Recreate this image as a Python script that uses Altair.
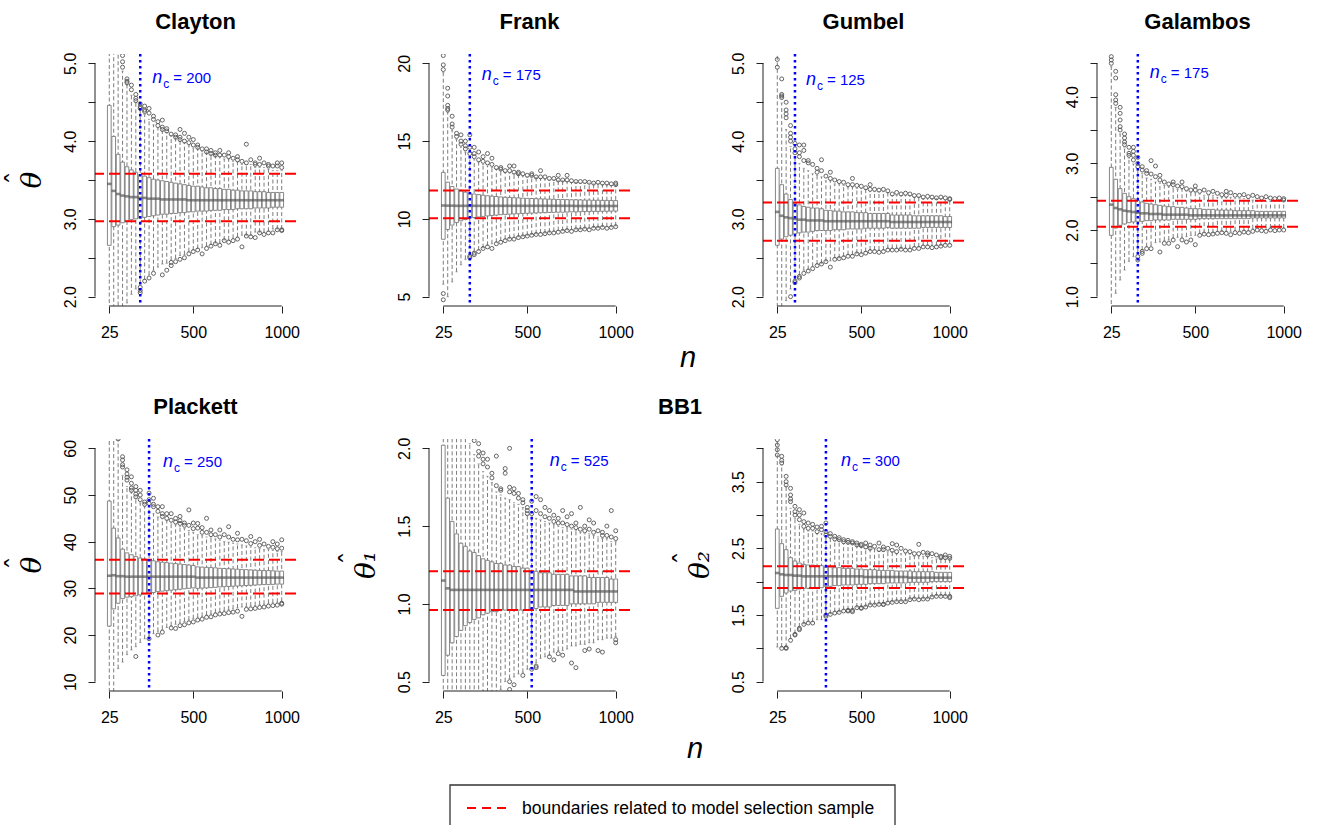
import json
import altair as alt
import pandas as pd

# ---------------- data ----------------
N = [25, 50, 75, 100, 125, 150, 175, 200, 225, 250, 275, 300, 325, 350, 375, 400, 425, 450, 475, 500,
     525, 550, 575, 600, 625, 650, 675, 700, 725, 750, 775, 800, 825, 850, 875, 900, 925, 950, 975, 1000]
X_TICKS = [25, 500, 1000]

panel_titles = ["Clayton", "Frank", "Gumbel", "Galambos", "Plackett", "", ""]
y_titles = ["\u03b8", "", "", "", "\u03b8", "\u03b8\u2081", "\u03b8\u2082"]
n_c = [200, 175, 125, 175, 250, 525, 300]
red_upper = [3.58, 11.82, 3.21, 2.44, 36.1, 1.21, 2.23]
red_lower = [2.97, 10.04, 2.72, 2.05, 28.9, 0.96, 1.905]
y_domains = [[1.88, 5.12], [4.4, 20.6], [1.88, 5.12], [0.86, 4.64], [8, 62], [0.44, 2.06], [0.36, 4.14]]
y_ticks = [[2.0, 2.5, 3.0, 3.5, 4.0, 4.5, 5.0], [5, 10, 15, 20], [2.0, 2.5, 3.0, 3.5, 4.0, 4.5, 5.0],
           [1.0, 1.5, 2.0, 2.5, 3.0, 3.5, 4.0, 4.5], [10, 20, 30, 40, 50, 60], [0.5, 1.0, 1.5, 2.0],
           [0.5, 1.0, 1.5, 2.0, 2.5, 3.0, 3.5, 4.0]]
y_labels = [[2, 3, 4, 5], [5, 10, 15, 20], [2, 3, 4, 5], [1, 2, 3, 4], [10, 20, 30, 40, 50, 60],
            [0.5, 1.0, 1.5, 2.0], [0.5, 1.5, 2.5, 3.5]]
y_formats = [".1f", "d", ".1f", ".1f", "d", ".1f", ".1f"]
legend_text = "boundaries related to model selection sample"

clayton_med = [3.45, 3.36, 3.32, 3.30, 3.29, 3.28, 3.28, 3.27, 3.27, 3.26, 3.26, 3.26, 3.25, 3.25, 3.25, 3.25, 3.25, 3.25, 3.24, 3.24,
               3.24, 3.24, 3.24, 3.24, 3.24, 3.24, 3.24, 3.24, 3.24, 3.24, 3.24, 3.24, 3.24, 3.24, 3.24, 3.24, 3.24, 3.24, 3.24, 3.24]
clayton_q3 = [4.46, 4.06, 3.83, 3.73, 3.67, 3.63, 3.60, 3.57, 3.55, 3.53, 3.51, 3.50, 3.49, 3.48, 3.47, 3.46, 3.45, 3.44, 3.43, 3.42,
              3.42, 3.41, 3.40, 3.40, 3.39, 3.39, 3.38, 3.38, 3.37, 3.37, 3.36, 3.36, 3.36, 3.35, 3.35, 3.35, 3.34, 3.34, 3.34, 3.34]
clayton_q1 = [2.66, 2.90, 2.92, 2.95, 2.97, 2.99, 3.00, 3.01, 3.02, 3.03, 3.04, 3.05, 3.06, 3.06, 3.07, 3.07, 3.08, 3.08, 3.09, 3.09,
              3.10, 3.10, 3.10, 3.11, 3.11, 3.11, 3.12, 3.12, 3.12, 3.13, 3.13, 3.13, 3.13, 3.14, 3.14, 3.14, 3.14, 3.15, 3.15, 3.15]
clayton_hi = [5.90, 5.80, 5.20, 4.90, 4.72, 4.59, 4.50, 4.41, 4.34, 4.28, 4.21, 4.17, 4.13, 4.11, 4.07, 4.04, 4.00, 3.98, 3.94, 3.91,
              3.90, 3.87, 3.85, 3.83, 3.81, 3.80, 3.77, 3.77, 3.74, 3.73, 3.70, 3.70, 3.70, 3.66, 3.66, 3.66, 3.64, 3.62, 3.62, 3.62]
clayton_lo = [1.50, 1.60, 1.55, 1.78, 1.92, 2.03, 2.10, 2.17, 2.22, 2.28, 2.34, 2.38, 2.42, 2.43, 2.47, 2.49, 2.53, 2.54, 2.58, 2.60,
              2.62, 2.63, 2.65, 2.67, 2.69, 2.69, 2.73, 2.73, 2.75, 2.77, 2.79, 2.79, 2.79, 2.83, 2.83, 2.83, 2.84, 2.87, 2.87, 2.87]
clayton_out = [[4, 5.10], [4, 5.02], [4, 4.95], [5, 4.80], [5, 4.77], [5, 4.75], [6, 4.72], [6, 4.66], [7, 4.60], [7, 4.55], [7, 4.52],
               [8, 4.48], [8, 4.44], [8, 4.42], [9, 4.45], [9, 4.40], [9, 4.38], [10, 4.42], [10, 4.36], [11, 4.32], [11, 4.28],
               [12, 4.25], [12, 4.20], [13, 4.27], [13, 4.18], [13, 4.15], [14, 4.16], [14, 4.13], [15, 4.09], [16, 4.08], [16, 4.05],
               [17, 4.15], [17, 4.05], [17, 4.02], [18, 4.10], [18, 4.00], [19, 4.05], [19, 3.98], [20, 4.02], [20, 3.95], [21, 3.95],
               [21, 3.92], [22, 3.90], [23, 3.90], [23, 3.86], [24, 3.88], [24, 3.84], [25, 3.85], [25, 3.82], [26, 3.88], [26, 3.82],
               [27, 3.82], [28, 3.85], [28, 3.80], [29, 3.78], [30, 3.80], [30, 3.76], [31, 3.74], [32, 3.96], [32, 3.72], [33, 3.76],
               [34, 3.72], [34, 3.70], [35, 3.78], [35, 3.70], [36, 3.72], [37, 3.70], [37, 3.68], [38, 3.68], [39, 3.72], [39, 3.68],
               [40, 3.72], [40, 3.66],
               [8, 2.12], [8, 2.08], [8, 2.05], [9, 2.20], [10, 2.24], [11, 2.30], [13, 2.28], [14, 2.34], [15, 2.40], [15, 2.44],
               [16, 2.45], [17, 2.48], [18, 2.50], [19, 2.55], [20, 2.58], [21, 2.60], [22, 2.55], [23, 2.62], [24, 2.65], [25, 2.68],
               [26, 2.66], [27, 2.72], [28, 2.70], [29, 2.72], [30, 2.74], [31, 2.64], [32, 2.78], [33, 2.77], [34, 2.76], [35, 2.82],
               [36, 2.80], [37, 2.82], [38, 2.82], [39, 2.86], [40, 2.86], [40, 2.85]]

frank_med = [10.86, 10.85, 10.85, 10.84, 10.84, 10.84, 10.84, 10.84, 10.84, 10.84, 10.84, 10.84, 10.84, 10.84, 10.84, 10.84, 10.84, 10.84, 10.84, 10.84,
             10.84, 10.84, 10.84, 10.84, 10.84, 10.84, 10.84, 10.84, 10.84, 10.84, 10.83, 10.83, 10.83, 10.83, 10.83, 10.83, 10.83, 10.83, 10.83, 10.83]
frank_q3 = [12.99, 12.36, 12.08, 11.92, 11.80, 11.72, 11.65, 11.60, 11.56, 11.52, 11.49, 11.46, 11.44, 11.41, 11.39, 11.38, 11.36, 11.35, 11.33, 11.32,
            11.31, 11.30, 11.29, 11.28, 11.27, 11.26, 11.25, 11.25, 11.24, 11.23, 11.23, 11.22, 11.21, 11.21, 11.20, 11.20, 11.19, 11.19, 11.18, 11.18]
frank_q1 = [8.69, 9.32, 9.60, 9.76, 9.88, 9.96, 10.05, 10.09, 10.12, 10.16, 10.19, 10.22, 10.24, 10.27, 10.29, 10.30, 10.32, 10.33, 10.35, 10.36,
            10.37, 10.38, 10.39, 10.40, 10.41, 10.42, 10.43, 10.43, 10.44, 10.45, 10.45, 10.46, 10.47, 10.47, 10.48, 10.48, 10.49, 10.49, 10.50, 10.50]
frank_hi = [19.4, 16.85, 15.7, 15.1, 14.6, 14.3, 14.0, 13.8, 13.65, 13.5, 13.4, 13.3, 13.2, 13.1, 13.0, 12.95, 12.9, 12.85, 12.75, 12.7,
            12.7, 12.65, 12.6, 12.55, 12.5, 12.5, 12.45, 12.45, 12.4, 12.35, 12.35, 12.3, 12.3, 12.3, 12.25, 12.25, 12.2, 12.2, 12.15, 12.15]
frank_lo = [5.8, 5.0, 5.95, 6.6, 7.05, 7.4, 7.7, 7.9, 8.0, 8.15, 8.3, 8.4, 8.5, 8.6, 8.7, 8.75, 8.8, 8.85, 8.9, 8.95,
            9.0, 9.05, 9.1, 9.1, 9.15, 9.2, 9.25, 9.25, 9.3, 9.3, 9.35, 9.35, 9.4, 9.4, 9.45, 9.45, 9.5, 9.5, 9.5, 9.55]
frank_out = [[1, 20.5], [1, 19.9], [1, 19.6], [2, 18.4], [2, 17.9], [2, 17.3], [2, 17.1], [2, 17.0], [3, 16.6], [3, 16.1], [3, 15.9],
             [4, 15.5], [4, 15.3], [5, 15.4], [5, 15.0], [5, 14.8], [6, 15.0], [6, 14.7], [6, 14.5], [7, 15.4], [7, 14.6], [7, 14.2],
             [8, 14.6], [8, 14.2], [8, 14.0], [9, 14.3], [9, 13.8], [10, 14.0], [10, 13.7], [11, 14.2], [11, 13.6], [12, 13.9],
             [12, 13.5], [13, 13.3], [14, 13.3], [14, 13.2], [15, 13.1], [16, 13.4], [16, 13.1], [17, 13.4], [17, 13.0], [18, 13.0],
             [18, 12.9], [19, 12.9], [20, 12.8], [21, 12.9], [21, 12.8], [22, 12.7], [23, 13.1], [23, 12.7], [24, 12.7], [25, 12.6],
             [26, 12.6], [27, 12.8], [27, 12.5], [28, 12.5], [29, 12.8], [29, 12.5], [30, 12.45], [31, 12.4], [32, 12.4], [33, 12.4],
             [34, 12.35], [35, 12.3], [36, 12.35], [37, 12.3], [38, 12.3], [39, 12.25], [40, 12.3], [40, 12.2],
             [1, 5.2], [1, 4.8], [7, 7.5], [7, 7.6], [8, 7.8], [8, 7.7], [9, 7.9], [10, 8.1], [11, 8.2], [12, 8.1], [13, 8.4],
             [14, 8.5], [15, 8.6], [16, 8.7], [17, 8.7], [18, 8.8], [19, 8.85], [20, 8.9], [21, 8.95], [22, 9.0], [23, 9.0],
             [24, 9.05], [25, 9.1], [26, 9.1], [27, 9.15], [28, 9.2], [29, 9.25], [30, 9.2], [31, 9.3], [32, 9.3], [33, 9.35],
             [34, 9.3], [35, 9.4], [36, 9.4], [37, 9.45], [38, 9.4], [39, 9.45], [40, 9.5]]

gumbel_med = [3.09, 3.04, 3.02, 3.01, 3.00, 2.99, 2.99, 2.98, 2.98, 2.98, 2.98, 2.97, 2.97, 2.97, 2.97, 2.97, 2.97, 2.97, 2.97, 2.97,
              2.97, 2.97, 2.97, 2.97, 2.97, 2.97, 2.96, 2.96, 2.96, 2.96, 2.96, 2.96, 2.96, 2.96, 2.96, 2.96, 2.96, 2.96, 2.96, 2.96]
gumbel_q3 = [3.65, 3.44, 3.32, 3.25, 3.20, 3.18, 3.16, 3.15, 3.14, 3.14, 3.13, 3.11, 3.11, 3.10, 3.10, 3.09, 3.09, 3.09, 3.08, 3.08,
             3.08, 3.07, 3.07, 3.07, 3.07, 3.07, 3.05, 3.05, 3.05, 3.05, 3.05, 3.04, 3.04, 3.04, 3.04, 3.04, 3.04, 3.04, 3.03, 3.03]
gumbel_q1 = [2.66, 2.74, 2.77, 2.79, 2.81, 2.82, 2.83, 2.83, 2.84, 2.85, 2.85, 2.85, 2.85, 2.86, 2.86, 2.86, 2.87, 2.87, 2.87, 2.87,
             2.88, 2.88, 2.88, 2.88, 2.88, 2.89, 2.88, 2.88, 2.88, 2.88, 2.88, 2.88, 2.88, 2.89, 2.89, 2.89, 2.89, 2.89, 2.89, 2.89]
gumbel_hi = [5.30, 4.49, 4.15, 3.93, 3.78, 3.71, 3.65, 3.62, 3.58, 3.56, 3.54, 3.49, 3.49, 3.45, 3.45, 3.43, 3.41, 3.41, 3.39, 3.39,
             3.38, 3.35, 3.35, 3.35, 3.35, 3.34, 3.30, 3.30, 3.30, 3.30, 3.30, 3.28, 3.28, 3.26, 3.26, 3.26, 3.26, 3.26, 3.24, 3.24]
gumbel_lo = [1.20, 1.70, 1.95, 2.10, 2.23, 2.28, 2.34, 2.35, 2.39, 2.42, 2.43, 2.46, 2.46, 2.50, 2.50, 2.52, 2.54, 2.54, 2.56, 2.56,
             2.58, 2.60, 2.60, 2.60, 2.60, 2.62, 2.62, 2.62, 2.62, 2.62, 2.62, 2.64, 2.64, 2.66, 2.66, 2.66, 2.66, 2.66, 2.68, 2.68]
gumbel_out = [[1, 5.2], [1, 5.05], [1, 4.95], [2, 4.8], [2, 4.6], [2, 4.58], [2, 4.56], [3, 4.5], [3, 4.4], [3, 4.35], [3, 4.3],
              [4, 4.2], [4, 4.1], [4, 4.05], [4, 4.0], [5, 3.97], [5, 3.9], [5, 3.85], [6, 3.95], [6, 3.85], [6, 3.8], [7, 3.95],
              [7, 3.88], [7, 3.75], [8, 3.75], [8, 3.72], [9, 3.7], [10, 3.65], [10, 3.6], [11, 3.76], [11, 3.62], [12, 3.55],
              [13, 3.6], [13, 3.52], [14, 3.5], [15, 3.48], [16, 3.47], [17, 3.44], [18, 3.52], [18, 3.44], [19, 3.43], [20, 3.42],
              [21, 3.4], [22, 3.44], [22, 3.38], [23, 3.38], [24, 3.37], [25, 3.38], [26, 3.36], [27, 3.32], [28, 3.34], [29, 3.32],
              [30, 3.33], [31, 3.32], [32, 3.3], [33, 3.3], [34, 3.28], [35, 3.29], [36, 3.28], [37, 3.27], [38, 3.28], [39, 3.27],
              [40, 3.26], [40, 3.25],
              [4, 2.0], [5, 2.2], [5, 2.18], [6, 2.26], [6, 2.24], [7, 2.3], [8, 2.33], [9, 2.36], [10, 2.4], [11, 2.42],
              [12, 2.45], [13, 2.38], [14, 2.48], [15, 2.49], [16, 2.5], [17, 2.52], [18, 2.52], [19, 2.55], [20, 2.54], [21, 2.56],
              [22, 2.58], [23, 2.58], [24, 2.57], [25, 2.58], [26, 2.6], [27, 2.6], [28, 2.6], [29, 2.61], [30, 2.6], [31, 2.6],
              [32, 2.62], [33, 2.62], [34, 2.64], [35, 2.64], [36, 2.63], [37, 2.64], [38, 2.65], [39, 2.66], [40, 2.66]]

galambos_med = [2.38, 2.33, 2.31, 2.29, 2.28, 2.27, 2.26, 2.25, 2.25, 2.24, 2.24, 2.24, 2.23, 2.23, 2.23, 2.23, 2.23, 2.23, 2.22, 2.22,
                2.22, 2.22, 2.22, 2.22, 2.22, 2.22, 2.22, 2.22, 2.22, 2.22, 2.22, 2.22, 2.22, 2.22, 2.22, 2.22, 2.22, 2.22, 2.22, 2.22]
galambos_q3 = [2.94, 2.76, 2.62, 2.55, 2.50, 2.47, 2.44, 2.42, 2.40, 2.39, 2.38, 2.37, 2.36, 2.35, 2.35, 2.34, 2.34, 2.33, 2.32, 2.32,
               2.32, 2.31, 2.31, 2.31, 2.30, 2.30, 2.30, 2.30, 2.29, 2.29, 2.29, 2.29, 2.29, 2.28, 2.28, 2.28, 2.28, 2.28, 2.28, 2.28]
galambos_q1 = [1.92, 2.03, 2.07, 2.09, 2.11, 2.12, 2.13, 2.13, 2.14, 2.14, 2.15, 2.15, 2.15, 2.15, 2.16, 2.16, 2.16, 2.16, 2.16, 2.16,
               2.17, 2.17, 2.17, 2.17, 2.17, 2.17, 2.17, 2.17, 2.17, 2.17, 2.17, 2.17, 2.18, 2.18, 2.18, 2.18, 2.18, 2.18, 2.18, 2.18]
galambos_hi = [4.45, 3.84, 3.44, 3.23, 3.08, 2.99, 2.90, 2.85, 2.78, 2.76, 2.72, 2.70, 2.67, 2.65, 2.63, 2.61, 2.61, 2.58, 2.56, 2.56,
               2.54, 2.52, 2.52, 2.52, 2.49, 2.49, 2.49, 2.49, 2.47, 2.47, 2.47, 2.47, 2.45, 2.43, 2.43, 2.43, 2.43, 2.43, 2.43, 2.43]
galambos_lo = [0.50, 1.05, 1.25, 1.40, 1.53, 1.60, 1.66, 1.70, 1.75, 1.77, 1.81, 1.82, 1.84, 1.85, 1.88, 1.89, 1.89, 1.90, 1.92, 1.92,
               1.95, 1.96, 1.96, 1.96, 1.98, 1.98, 1.98, 1.98, 1.99, 1.99, 1.99, 1.99, 2.02, 2.03, 2.03, 2.03, 2.03, 2.03, 2.03, 2.03]
galambos_out = [[1, 4.6], [1, 4.55], [1, 4.5], [2, 4.38], [2, 4.28], [2, 4.03], [2, 3.95], [2, 3.9], [3, 3.84], [3, 3.75], [3, 3.65],
                [3, 3.55], [3, 3.5], [4, 3.44], [4, 3.38], [4, 3.32], [4, 3.28], [5, 3.24], [5, 3.15], [5, 3.12], [6, 3.24], [6, 3.18],
                [6, 3.12], [6, 3.05], [7, 3.09], [7, 3.0], [7, 2.95], [8, 2.95], [8, 2.9], [9, 2.89], [9, 2.85], [10, 3.04], [10, 2.84],
                [11, 2.96], [11, 2.8], [12, 2.82], [12, 2.75], [13, 2.72], [14, 2.69], [15, 2.72], [15, 2.68], [16, 2.66], [17, 2.72],
                [17, 2.65], [18, 2.62], [19, 2.6], [20, 2.66], [20, 2.6], [21, 2.58], [22, 2.6], [23, 2.56], [24, 2.58], [25, 2.55],
                [26, 2.53], [27, 2.58], [27, 2.52], [28, 2.56], [29, 2.52], [30, 2.52], [31, 2.53], [32, 2.5], [33, 2.52], [34, 2.5],
                [35, 2.48], [36, 2.5], [37, 2.48], [38, 2.47], [39, 2.48], [40, 2.47], [40, 2.45],
                [7, 1.6], [7, 1.55], [8, 1.68], [8, 1.65], [9, 1.72], [10, 1.72], [12, 1.67], [13, 1.8], [14, 1.8], [15, 1.85],
                [16, 1.75], [17, 1.85], [18, 1.82], [19, 1.85], [20, 1.78], [21, 1.92], [22, 1.94], [23, 1.93], [24, 1.94], [25, 1.95],
                [26, 1.96], [27, 1.95], [28, 1.93], [29, 1.96], [30, 1.95], [31, 1.97], [32, 1.96], [33, 1.98], [34, 2.0], [35, 1.99],
                [36, 1.98], [37, 2.0], [38, 1.99], [39, 2.0], [40, 2.0]]

plackett_med = [32.7, 32.8, 32.6, 32.6, 32.5, 32.5, 32.5, 32.5, 32.5, 32.5, 32.5, 32.5, 32.5, 32.5, 32.5, 32.5, 32.5, 32.5, 32.5, 32.5,
                32.3, 32.3, 32.3, 32.3, 32.3, 32.3, 32.3, 32.3, 32.3, 32.3, 32.3, 32.3, 32.3, 32.3, 32.3, 32.3, 32.3, 32.3, 32.3, 32.3]
plackett_q3 = [48.7, 42.9, 40.8, 38.4, 37.6, 37.2, 36.8, 36.5, 36.3, 36.1, 35.9, 35.7, 35.6, 35.5, 35.4, 35.3, 35.2, 35.1, 35.0, 34.9,
               34.6, 34.55, 34.5, 34.45, 34.4, 34.3, 34.25, 34.2, 34.15, 34.1, 34.05, 34.0, 33.95, 33.9, 33.85, 33.8, 33.8, 33.75, 33.7, 33.7]
plackett_q1 = [21.9, 25.6, 26.8, 27.8, 28.1, 28.2, 28.4, 28.6, 28.8, 29.0, 29.1, 29.3, 29.4, 29.5, 29.6, 29.7, 29.8, 29.9, 30.0, 30.1,
               30.0, 30.05, 30.1, 30.15, 30.2, 30.3, 30.35, 30.4, 30.45, 30.5, 30.55, 30.6, 30.65, 30.7, 30.75, 30.8, 30.8, 30.85, 30.9, 30.9]
plackett_hi = [75.0, 68.0, 61.8, 54.2, 51.8, 50.6, 49.3, 48.3, 47.5, 46.7, 46.0, 45.3, 44.9, 44.5, 44.0, 43.6, 43.2, 42.8, 42.4, 42.0,
               41.5, 41.3, 41.0, 40.8, 40.6, 40.3, 40.0, 39.9, 39.7, 39.5, 39.3, 39.1, 38.9, 38.7, 38.5, 38.3, 38.3, 38.1, 37.9, 37.9]
plackett_lo = [5.0, 5.0, 12.8, 14.2, 15.8, 16.8, 17.5, 18.4, 19.2, 19.8, 20.3, 20.8, 21.2, 21.6, 22.0, 22.3, 22.6, 22.9, 23.2, 23.5,
               23.8, 24.0, 24.3, 24.5, 24.8, 25.0, 25.2, 25.4, 25.6, 25.8, 26.0, 26.1, 26.2, 26.3, 26.5, 26.6, 26.8, 26.9, 27.0, 27.2]
plackett_out = [[3, 62.0], [4, 58.2], [4, 57.5], [4, 56.5], [4, 56.0], [5, 55.4], [5, 54.5], [5, 53.8], [5, 53.2], [6, 53.9], [6, 52.5],
                [6, 51.5], [6, 51.0], [7, 51.8], [7, 51.0], [7, 50.2], [7, 49.6], [8, 51.0], [8, 50.0], [8, 49.0], [9, 48.5], [9, 48.0],
                [10, 50.4], [10, 49.0], [10, 48.2], [11, 49.3], [11, 48.0], [11, 47.5], [12, 47.5], [12, 46.5], [13, 47.5], [13, 46.0],
                [13, 45.4], [14, 46.0], [14, 45.0], [15, 46.0], [15, 44.6], [16, 45.0], [16, 44.2], [17, 45.4], [17, 44.5], [17, 43.9],
                [18, 44.0], [18, 43.5], [19, 46.8], [19, 43.5], [20, 44.0], [20, 42.8], [21, 43.9], [21, 42.9], [22, 43.0], [22, 42.0],
                [23, 45.0], [23, 42.0], [24, 42.5], [24, 41.5], [25, 41.5], [26, 42.5], [26, 41.0], [27, 41.5], [28, 43.2], [28, 41.0],
                [29, 40.5], [30, 41.8], [30, 40.4], [31, 40.5], [32, 40.2], [33, 41.1], [33, 39.6], [34, 40.0], [35, 40.5], [35, 39.2],
                [36, 39.5], [37, 39.0], [38, 40.0], [38, 38.8], [39, 39.5], [39, 38.5], [40, 40.4], [40, 38.6],
                [7, 15.4], [10, 19.2], [12, 20.0], [13, 20.6], [15, 21.5], [16, 21.4], [17, 22.0], [18, 22.2], [19, 22.6], [20, 22.8],
                [21, 23.2], [22, 23.4], [23, 23.8], [24, 23.9], [25, 24.3], [26, 24.5], [27, 24.6], [28, 24.8], [29, 24.9], [30, 25.1],
                [31, 24.0], [32, 25.5], [33, 25.6], [34, 25.7], [35, 25.9], [36, 26.0], [37, 26.2], [38, 26.3], [39, 26.4], [40, 26.8],
                [40, 26.6]]

bb1t1_med = [1.15, 1.10, 1.09, 1.09, 1.09, 1.09, 1.09, 1.09, 1.09, 1.09, 1.09, 1.09, 1.09, 1.09, 1.09, 1.09, 1.09, 1.09, 1.09, 1.09,
             1.09, 1.09, 1.09, 1.09, 1.09, 1.09, 1.09, 1.09, 1.09, 1.09, 1.08, 1.08, 1.08, 1.08, 1.08, 1.08, 1.08, 1.08, 1.08, 1.08]
bb1t1_q3 = [2.02, 1.68, 1.53, 1.45, 1.39, 1.37, 1.34, 1.33, 1.31, 1.29, 1.28, 1.27, 1.26, 1.26, 1.25, 1.25, 1.24, 1.24, 1.23, 1.23,
            1.21, 1.21, 1.20, 1.20, 1.20, 1.19, 1.19, 1.19, 1.19, 1.18, 1.18, 1.18, 1.18, 1.17, 1.17, 1.17, 1.17, 1.17, 1.16, 1.16]
bb1t1_q1 = [0.54, 0.67, 0.75, 0.79, 0.83, 0.86, 0.88, 0.90, 0.91, 0.93, 0.94, 0.95, 0.95, 0.96, 0.96, 0.96, 0.96, 0.96, 0.96, 0.96,
            0.97, 0.97, 0.98, 0.98, 0.98, 0.99, 0.99, 0.99, 0.99, 1.00, 1.00, 1.00, 1.00, 1.00, 1.00, 1.01, 1.01, 1.01, 1.01, 1.01]
bb1t1_hi = [4.2, 3.2, 2.7, 2.44, 2.23, 2.14, 2.03, 1.96, 1.90, 1.85, 1.82, 1.78, 1.72, 1.70, 1.68, 1.67, 1.65, 1.64, 1.62, 1.57,
            1.56, 1.55, 1.54, 1.53, 1.52, 1.51, 1.50, 1.49, 1.49, 1.48, 1.47, 1.46, 1.45, 1.45, 1.44, 1.43, 1.42, 1.42, 1.40, 1.40]
bb1t1_lo = [0.2, 0.2, 0.2, 0.2, 0.2, 0.2, 0.2, 0.2, 0.2, 0.3, 0.35, 0.38, 0.42, 0.45, 0.5, 0.52, 0.53, 0.55, 0.56, 0.58,
            0.61, 0.62, 0.65, 0.66, 0.67, 0.69, 0.70, 0.70, 0.71, 0.73, 0.73, 0.74, 0.74, 0.75, 0.75, 0.77, 0.77, 0.78, 0.78, 0.79]
bb1t1_out = [[8, 2.05], [9, 2.03], [9, 1.98], [9, 1.95], [10, 1.97], [10, 1.93], [10, 1.9], [11, 1.93], [11, 1.88], [12, 1.84],
             [12, 1.81], [13, 1.95], [13, 1.76], [14, 1.74], [14, 1.73], [15, 1.87], [15, 1.84], [16, 2.0], [16, 1.75], [16, 1.72],
             [17, 1.74], [17, 1.71], [18, 1.71], [18, 1.68], [19, 1.67], [19, 1.65], [20, 1.62], [20, 1.6], [20, 1.58], [21, 1.66],
             [21, 1.58], [22, 1.69], [22, 1.6], [23, 1.67], [23, 1.58], [24, 1.62], [24, 1.56], [25, 1.6], [25, 1.55], [26, 1.57],
             [26, 1.53], [27, 1.55], [27, 1.52], [28, 1.6], [28, 1.52], [29, 1.56], [29, 1.51], [30, 1.58], [30, 1.5], [31, 1.52],
             [31, 1.49], [32, 1.62], [32, 1.48], [33, 1.5], [33, 1.47], [34, 1.54], [34, 1.48], [35, 1.52], [35, 1.46], [36, 1.47],
             [37, 1.46], [37, 1.44], [38, 1.5], [38, 1.44], [39, 1.6], [39, 1.43], [40, 1.47], [40, 1.42],
             [16, 0.50], [16, 0.45], [17, 0.48], [19, 0.54], [21, 0.58], [22, 0.6], [22, 0.59], [25, 0.66], [26, 0.64], [27, 0.68],
             [28, 0.67], [30, 0.62], [31, 0.59], [33, 0.7], [34, 0.71], [36, 0.7], [37, 0.69], [40, 0.77], [40, 0.75]]

bb1t2_med = [2.13, 2.11, 2.10, 2.10, 2.09, 2.09, 2.08, 2.08, 2.08, 2.08, 2.08, 2.08, 2.08, 2.08, 2.08, 2.08, 2.08, 2.08, 2.08, 2.08,
             2.07, 2.07, 2.07, 2.07, 2.07, 2.07, 2.07, 2.07, 2.07, 2.07, 2.06, 2.06, 2.06, 2.06, 2.06, 2.06, 2.06, 2.06, 2.06, 2.06]
bb1t2_q3 = [2.79, 2.57, 2.48, 2.36, 2.31, 2.28, 2.26, 2.25, 2.25, 2.24, 2.24, 2.22, 2.22, 2.21, 2.21, 2.20, 2.20, 2.20, 2.19, 2.19,
            2.18, 2.18, 2.18, 2.17, 2.17, 2.17, 2.17, 2.16, 2.16, 2.16, 2.16, 2.15, 2.15, 2.15, 2.15, 2.15, 2.14, 2.14, 2.14, 2.14]
bb1t2_q1 = [1.60, 1.78, 1.83, 1.86, 1.87, 1.89, 1.90, 1.90, 1.90, 1.91, 1.91, 1.93, 1.93, 1.94, 1.94, 1.95, 1.95, 1.95, 1.96, 1.96,
            1.96, 1.97, 1.97, 1.97, 1.97, 1.98, 1.98, 1.98, 1.98, 1.98, 1.99, 1.99, 1.99, 1.99, 1.99, 2.00, 2.00, 2.00, 2.00, 2.00]
bb1t2_hi = [4.5, 3.75, 3.43, 3.10, 2.95, 2.86, 2.79, 2.76, 2.76, 2.72, 2.72, 2.65, 2.65, 2.61, 2.61, 2.57, 2.57, 2.57, 2.53, 2.53,
            2.50, 2.49, 2.49, 2.46, 2.46, 2.45, 2.45, 2.42, 2.42, 2.42, 2.41, 2.38, 2.38, 2.38, 2.38, 2.36, 2.34, 2.34, 2.34, 2.34]
bb1t2_lo = [1.02, 1.02, 1.02, 1.15, 1.22, 1.32, 1.37, 1.40, 1.40, 1.43, 1.43, 1.52, 1.52, 1.55, 1.55, 1.58, 1.58, 1.58, 1.62, 1.62,
            1.63, 1.66, 1.66, 1.67, 1.67, 1.70, 1.70, 1.71, 1.71, 1.71, 1.74, 1.75, 1.75, 1.75, 1.75, 1.78, 1.79, 1.79, 1.79, 1.79]
bb1t2_out = [[1, 4.13], [1, 4.05], [1, 3.98], [1, 3.9], [2, 3.88], [2, 3.82], [2, 3.78], [3, 3.58], [3, 3.5], [3, 3.45], [4, 3.4],
             [4, 3.3], [4, 3.24], [4, 3.2], [5, 3.13], [5, 3.05], [5, 3.0], [6, 3.08], [6, 3.0], [6, 2.93], [7, 3.03], [7, 2.9],
             [7, 2.83], [8, 2.88], [8, 2.8], [9, 2.86], [9, 2.8], [10, 2.82], [10, 2.75], [11, 2.83], [11, 2.78], [12, 2.88],
             [12, 2.75], [12, 2.7], [13, 2.72], [13, 2.68], [14, 2.68], [14, 2.64], [15, 2.66], [15, 2.63], [16, 2.63], [16, 2.6],
             [17, 2.62], [17, 2.59], [18, 2.6], [18, 2.58], [19, 2.58], [19, 2.55], [20, 2.56], [20, 2.54], [21, 2.58], [21, 2.52],
             [22, 2.55], [22, 2.5], [23, 2.53], [24, 2.58], [24, 2.48], [25, 2.52], [25, 2.48], [26, 2.5], [27, 2.57], [27, 2.47],
             [28, 2.55], [28, 2.45], [29, 2.5], [30, 2.46], [31, 2.45], [32, 2.42], [33, 2.56], [33, 2.42], [34, 2.44], [35, 2.43],
             [35, 2.4], [36, 2.42], [37, 2.4], [38, 2.38], [38, 2.36], [39, 2.4], [39, 2.36], [40, 2.38], [40, 2.35],
             [2, 1.0], [3, 1.0], [3, 1.01], [4, 1.12], [5, 1.21], [5, 1.2], [6, 1.30], [6, 1.28], [7, 1.36], [8, 1.38], [9, 1.38],
             [12, 1.50], [12, 1.48], [13, 1.51], [14, 1.53], [15, 1.54], [16, 1.56], [17, 1.56], [17, 1.57], [18, 1.55], [18, 1.57],
             [19, 1.61], [20, 1.60], [20, 1.61], [21, 1.62], [22, 1.65], [23, 1.65], [24, 1.66], [25, 1.66], [25, 1.66], [26, 1.68],
             [27, 1.69], [28, 1.7], [29, 1.7], [30, 1.7], [31, 1.73], [32, 1.74], [33, 1.73], [34, 1.74], [35, 1.74], [36, 1.77],
             [37, 1.78], [38, 1.78], [39, 1.78], [40, 1.78], [40, 1.76]]

STATS = [
    (clayton_med, clayton_q1, clayton_q3, clayton_lo, clayton_hi, clayton_out),
    (frank_med, frank_q1, frank_q3, frank_lo, frank_hi, frank_out),
    (gumbel_med, gumbel_q1, gumbel_q3, gumbel_lo, gumbel_hi, gumbel_out),
    (galambos_med, galambos_q1, galambos_q3, galambos_lo, galambos_hi, galambos_out),
    (plackett_med, plackett_q1, plackett_q3, plackett_lo, plackett_hi, plackett_out),
    (bb1t1_med, bb1t1_q1, bb1t1_q3, bb1t1_lo, bb1t1_hi, bb1t1_out),
    (bb1t2_med, bb1t2_q1, bb1t2_q3, bb1t2_lo, bb1t2_hi, bb1t2_out),
]

# ---------------- style ----------------
W, H = 201, 252
AX = "#222222"
WHISK = "#7c7c7c"
BOXC = "#7a7a7a"
MEDC = "#595959"
OUTC = "#555555"
FONT = "Liberation Sans"
label_dx = [12, 12, 11, 12, 14, 18, 15]
label_y = [29, 26, 31, 24, 28, 27, 27]


def text_layer(txt, x, y, **kw):
    return alt.Chart(pd.DataFrame({"t": [txt]})).mark_text(**kw).encode(
        x=alt.value(x), y=alt.value(y), text="t:N")


def make_panel(i, extra=None):
    med, q1, q3, lo, hi, out = STATS[i]
    df = pd.DataFrame({"n": N, "med": med, "q1": q1, "q3": q3, "lo": lo, "hi": hi})
    od = pd.DataFrame(out, columns=["k", "v"])
    od["n"] = od["k"] * 25
    xs = alt.Scale(domain=[-27.5, 1052.5], nice=False, zero=False)
    ys = alt.Scale(domain=y_domains[i], nice=False, zero=False)
    xax = alt.Axis(values=X_TICKS, title=None, grid=False, domain=False, tickSize=7, tickColor=AX, format="d",
                   labelFontSize=16, labelFont=FONT, labelColor="black", labelPadding=24,
                   labelBaseline="alphabetic", labelAlign="center", labelOverlap=False, labelFlush=False)
    lab = json.dumps(y_labels[i])
    yax = alt.Axis(values=y_ticks[i], title=None, grid=False, domain=False, tickSize=7, tickColor=AX,
                   labelFontSize=16, labelFont=FONT, labelColor="black", labelPadding=13,
                   labelAngle=270, labelAlign="center", labelBaseline="alphabetic",
                   labelOverlap=False, labelFlush=False,
                   labelExpr=f"indexof({lab}, datum.value) >= 0 ? format(datum.value, '{y_formats[i]}') : ''")

    def X(f):
        return alt.X(f, type="quantitative", scale=xs, axis=xax)

    def Y(f):
        return alt.Y(f, type="quantitative", scale=ys, axis=yax)

    base = alt.Chart(df)
    layers = [
        base.mark_rule(clip=True, color=WHISK, strokeDash=[4, 2.5], strokeWidth=1).encode(x=X("n"), y=Y("lo"), y2="hi"),
        base.mark_tick(clip=True, orient="horizontal", size=2.2, thickness=1, color=WHISK).encode(x=X("n"), y=Y("hi")),
        base.mark_tick(clip=True, orient="horizontal", size=2.2, thickness=1, color=WHISK).encode(x=X("n"), y=Y("lo")),
        base.mark_bar(clip=True, orient="vertical", size=3.7, fill="white", stroke=BOXC, strokeWidth=0.9).encode(
            x=X("n"), y=Y("q1"), y2="q3"),
        base.mark_tick(clip=True, orient="horizontal", size=4.6, thickness=2.6, color=MEDC).encode(x=X("n"), y=Y("med")),
        alt.Chart(od).mark_point(clip=True, shape="circle", filled=False, size=16, strokeWidth=0.9, color=OUTC,
                                 opacity=1).encode(x=X("n"), y=Y("v")),
        alt.Chart(pd.DataFrame({"v": [red_upper[i], red_lower[i]]})).mark_rule(
            color="#FF0000", strokeDash=[11, 5], strokeWidth=2).encode(y=Y("v")),
        alt.Chart(pd.DataFrame({"n": [n_c[i]]})).mark_rule(
            color="#0000FF", strokeDash=[2.5, 3.5], strokeWidth=2.5).encode(x=X("n")),
    ]
    nc_df = pd.DataFrame({"n": [n_c[i]], "t": [f"= {n_c[i]}"]})
    layers += [
        alt.Chart(nc_df).mark_text(align="left", baseline="alphabetic", dx=label_dx[i], font=FONT, fontStyle="italic",
                                   fontSize=18, color="#0000FF").encode(x=X("n"), y=alt.value(label_y[i]), text=alt.value("n")),
        alt.Chart(nc_df).mark_text(align="left", baseline="alphabetic", dx=label_dx[i] + 11, font=FONT,
                                   fontSize=12, color="#0000FF").encode(x=X("n"), y=alt.value(label_y[i] + 5), text=alt.value("c")),
        alt.Chart(nc_df).mark_text(align="left", baseline="alphabetic", dx=label_dx[i] + 21, font=FONT,
                                   fontSize=15, color="#0000FF").encode(x=X("n"), y=alt.value(label_y[i]), text="t:N"),
    ]
    # R-style axis lines spanning first to last tick
    layers += [
        alt.Chart(pd.DataFrame({"a": [y_ticks[i][0]], "b": [y_ticks[i][-1]]})).mark_rule(color=AX, strokeWidth=1).encode(
            x=alt.value(0), y=Y("a"), y2="b"),
        alt.Chart(pd.DataFrame({"a": [X_TICKS[0]], "b": [X_TICKS[-1]]})).mark_rule(color=AX, strokeWidth=1).encode(
            y=alt.value(H), x=X("a"), x2="b"),
    ]
    if panel_titles[i]:
        layers.append(text_layer(panel_titles[i], W / 2, -32, font=FONT, fontWeight="bold", fontSize=22,
                                 color="black", baseline="middle", align="center"))
    if y_titles[i]:
        # theta (rotated) and its hat, drawn as two text marks
        layers.append(text_layer(y_titles[i], -62, H / 2, font="DejaVu Serif", fontStyle="italic", fontSize=28,
                                 color="black", angle=270, baseline="middle", align="center"))
        layers.append(text_layer("\u02c6", -77, H / 2 - (5 if len(y_titles[i]) > 1 else 0) - 2, font="DejaVu Serif",
                                 fontSize=28, color="black", angle=270, baseline="middle", align="center"))
    if extra:
        layers += extra
    return alt.layer(*layers).properties(width=W, height=H)


n_label_row1 = [text_layer("n", 259, 304, font=FONT, fontStyle="italic", fontSize=29, baseline="middle",
                           align="center", color="black")]
row2_extra = [
    text_layer("BB1", 251, -32, font=FONT, fontWeight="bold", fontSize=22, baseline="middle", align="center", color="black"),
    text_layer("n", 266, 310, font=FONT, fontStyle="italic", fontSize=29, baseline="middle", align="center", color="black"),
    alt.Chart(pd.DataFrame({"t": [legend_text]})).mark_rect(fillOpacity=0, stroke="#333333", strokeWidth=1.3).encode(
        x=alt.value(21), x2=alt.value(466), y=alt.value(346), y2=alt.value(430)),
    alt.Chart(pd.DataFrame({"t": [legend_text]})).mark_rule(color="#FF0000", strokeDash=[9, 6], strokeWidth=2).encode(
        x=alt.value(38), x2=alt.value(78), y=alt.value(369)),
    text_layer(legend_text, 93, 375, font=FONT, fontSize=17.5, baseline="alphabetic", align="left", color="black"),
]

panels = [make_panel(0), make_panel(1, n_label_row1), make_panel(2), make_panel(3),
          make_panel(4), make_panel(5, row2_extra), make_panel(6)]

chart = alt.concat(*panels, columns=4, spacing=133, bounds="flush").properties(
    autosize=alt.AutoSizeParams(type="none"),
    padding={"left": 95, "top": 54, "right": 1225, "bottom": 771},
).configure(font=FONT, background="white").configure_view(strokeWidth=0, stroke="transparent")

chart.save("out.html", embed_options={"renderer": "svg", "actions": False})
